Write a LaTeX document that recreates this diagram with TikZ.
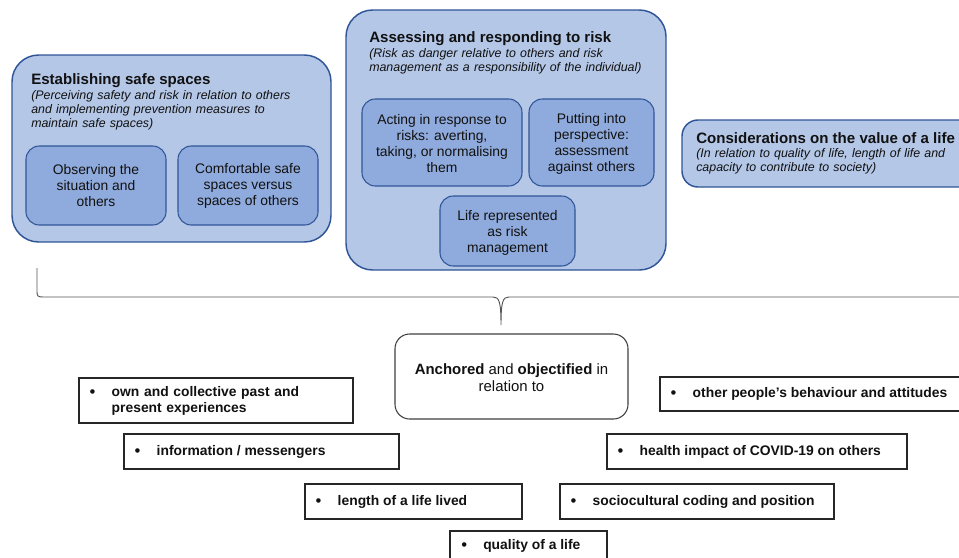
\documentclass[tikz,border=0pt]{standalone}
\usepackage{fontspec}
\setmainfont{Liberation Sans}
\usetikzlibrary{fit}
\definecolor{outerfill}{HTML}{B4C7E7}
\definecolor{innerfill}{HTML}{8FAADC}
\definecolor{bordblue}{HTML}{2F5597}
\definecolor{textc}{HTML}{111111}
\definecolor{bracec}{HTML}{555555}
\newcommand\ttlfnt{\fontsize{11.3}{13}\selectfont\bfseries}
\newcommand\subfnt{\fontsize{9.3}{10.5}\selectfont\itshape}
\newcommand\bodyfnt{\fontsize{10.4}{12}\selectfont}
\newcommand\ancfnt{\fontsize{11.2}{12.8}\selectfont}
\begin{document}
\begin{tikzpicture}[x=0.75pt,y=-0.75pt,
  outerbox/.style={draw=bordblue, fill=outerfill, line width=1.1pt, rounded corners=20pt, inner sep=0pt},
  innerbox/.style={draw=bordblue, fill=innerfill, line width=0.8pt, rounded corners=10pt, inner sep=0pt},
  innertxt/.style={inner sep=0pt, align=center, font=\bodyfnt, text=textc},
  ttl/.style={anchor=base west, inner sep=0pt, font=\ttlfnt, text=textc},
  subtxt/.style={anchor=base west, inner sep=0pt, font=\subfnt, text=textc, text width=260pt, align=left},
  anchbox/.style={draw=black!75, fill=white, line width=0.8pt, rounded corners=11pt, inner sep=0pt},
  anctxt/.style={inner sep=0pt, align=center, font=\ancfnt, text=textc},
  bulbox/.style={draw=black!85, fill=white, line width=0.8pt, inner sep=0pt},
  bultxt/.style={anchor=west, inner sep=0pt, font=\bodyfnt\bfseries, text=textc, align=left},
  buldot/.style={anchor=base west, inner sep=0pt, font=\fontsize{12.5}{12.5}\selectfont, text=textc},
  bracepath/.style={draw=bracec, line width=0.7pt}
]
\useasboundingbox (0,0) rectangle (959,557);

% Box 1
\node[outerbox, fit={(12,55) (331,242)}] (b1) {};
\node[ttl] (b1t) at (31,84) {Establishing safe spaces};
\node[subtxt] (b1s) at (31,99) {(Perceiving safety and risk in relation to others\\and implementing prevention measures to\\maintain safe spaces)};
\node[innerbox, fit={(26,146) (166,225)}] (i1a) {};
\node[innertxt] (i1at) at (i1a.center) {Observing the\\situation and\\others};
\node[innerbox, fit={(178,146) (318,225)}] (i1b) {};
\node[innertxt] (i1bt) at (i1b.center) {Comfortable safe\\spaces versus\\spaces of others};

% Box 2
\node[outerbox, fit={(346,10) (666,270)}] (b2) {};
\node[ttl] (b2t) at (369,42) {Assessing and responding to risk};
\node[subtxt] (b2s) at (369,57) {(Risk as danger relative to others and risk\\management as a responsibility of the individual)};
\node[innerbox, fit={(362,99) (522,186)}] (i2a) {};
\node[innertxt] (i2at) at ([yshift=-0.75pt]i2a.center) {Acting in response to\\risks: averting,\\taking, or normalising\\them};
\node[innerbox, fit={(529,99) (654,186)}] (i2b) {};
\node[innertxt] (i2bt) at ([yshift=-0.75pt]i2b.center) {Putting into\\perspective:\\assessment\\against others};
\node[innerbox, fit={(440,196) (575,266)}] (i2c) {};
\node[innertxt] (i2ct) at ([yshift=-1.2pt]i2c.center) {Life represented\\as risk\\management};

% Box 3
\node[outerbox, rounded corners=12pt, fit={(682,120) (995,187)}] (b3) {};
\node[ttl] (b3t) at (696,143) {Considerations on the value of a life};
\node[subtxt] (b3s) at (696,157) {(In relation to quality of life, length of life and\\capacity to contribute to society)};

% Brace
\coordinate (bL) at (37,268);
\coordinate (bM) at (501,325);
\coordinate (bR) at (975,297);
\draw[bracepath] (bL) -- (37,292) .. controls (37,296) and (38,297) .. (43,297)
  -- (493,297) .. controls (499,297) and (501,301) .. (bM)
  .. controls (501,301) and (503,297) .. (509,297) -- (bR);

% Anchored box
\node[anchbox, fit={(395,334) (628,419)}] (anc) {};
\node[anctxt] (anct) at ([yshift=-0.75pt]anc.center) {\textbf{Anchored} and \textbf{objectified} in\\relation to};

% Bullet boxes
\node[bulbox, fit={(79,378) (353,423)}] (p1) {};
\node[bultxt, text width=230pt] (p1t) at ([xshift=24.75pt]p1.west) {own and collective past and\\present experiences};
\node[buldot] (p1d) at ([xshift=-16.5pt,yshift=-1pt]p1t.base west) {•};

\node[bulbox, fit={(124,434) (399,469)}] (p2) {};
\node[bultxt] (p2t) at ([xshift=24.75pt]p2.west) {information / messengers};
\node[buldot] (p2d) at ([xshift=-16.5pt,yshift=-1pt]p2t.base west) {•};

\node[bulbox, fit={(305,484) (522,519)}] (p3) {};
\node[bultxt] (p3t) at ([xshift=24.75pt]p3.west) {length of a life lived};
\node[buldot] (p3d) at ([xshift=-16.5pt,yshift=-1pt]p3t.base west) {•};

\node[bulbox, fit={(450,531) (607,575)}] (p4) {};
\node[bultxt] (p4t) at ([xshift=24.75pt]450,545.5) {quality of a life};
\node[buldot] (p4d) at ([xshift=-16.5pt,yshift=-1pt]p4t.base west) {•};

\node[bulbox, fit={(660,377) (980,411)}] (p5) {};
\node[bultxt] (p5t) at ([xshift=24.75pt]p5.west) {other people’s behaviour and attitudes};
\node[buldot] (p5d) at ([xshift=-16.5pt,yshift=-1pt]p5t.base west) {•};

\node[bulbox, fit={(607,434) (907,469)}] (p6) {};
\node[bultxt] (p6t) at ([xshift=24.75pt]p6.west) {health impact of COVID-19 on others};
\node[buldot] (p6d) at ([xshift=-16.5pt,yshift=-1pt]p6t.base west) {•};

\node[bulbox, fit={(560,484) (834,519)}] (p7) {};
\node[bultxt] (p7t) at ([xshift=24.75pt]p7.west) {sociocultural coding and position};
\node[buldot] (p7d) at ([xshift=-16.5pt,yshift=-1pt]p7t.base west) {•};
\end{tikzpicture}
\end{document}
